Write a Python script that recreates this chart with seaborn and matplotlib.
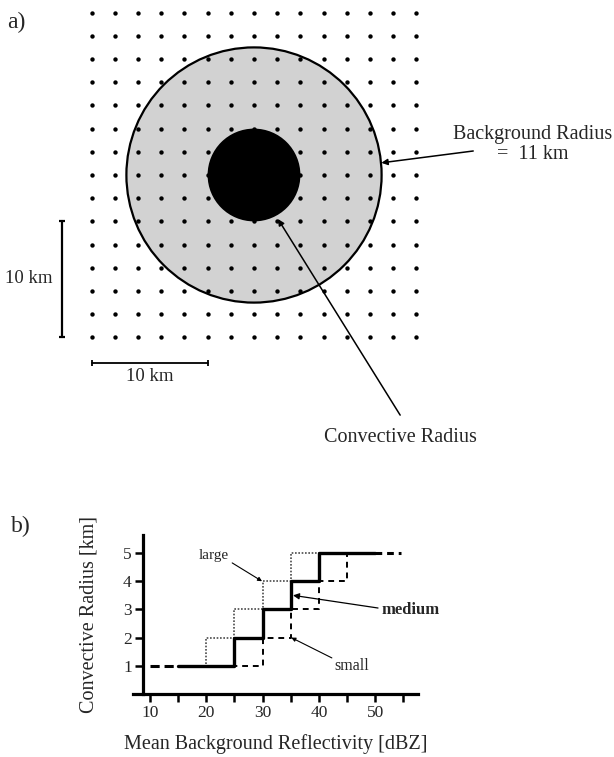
import numpy as np
import pandas as pd
import matplotlib
matplotlib.use("Agg")
import matplotlib.pyplot as plt
from matplotlib.patches import Circle
import seaborn as sns

# ---- panel a: analysis grid (km) and the two radii ----
grid_km = [-14, -12, -10, -8, -6, -4, -2, 0, 2, 4, 6, 8, 10, 12, 14]
background_radius_km = 11
convective_radius_km = 4
scale_bar_km = 10

# ---- panel b: convective radius vs. mean background reflectivity ----
bin_start_dbz = [15, 20, 25, 30, 35, 40, 45]
bin_end_dbz = 50
extend_left_dbz = 10
extend_right_dbz = 54.5
radius_large = [1, 2, 3, 4, 5, 5, 5]
radius_medium = [1, 1, 2, 3, 4, 5, 5]
radius_small = [1, 1, 1, 2, 3, 4, 5]
x_ticks = [10, 15, 20, 25, 30, 35, 40, 45, 50, 55]
x_tick_labels = ["10", "", "20", "", "30", "", "40", "", "50", ""]
y_ticks = [1, 2, 3, 4, 5]

sns.set_theme(style="white")
plt.rcParams["font.family"] = ["Liberation Serif", "DejaVu Serif"]
plt.rcParams["mathtext.fontset"] = "stix"

W, H = 614, 757
fig = plt.figure(figsize=(W / 100, H / 100), dpi=100)
fig.patch.set_facecolor("white")

# ================= panel a =================
px_per_km = 11.6
cx, cy = 254, 175  # circle centre in pixels
a_bottom = 450
ax_a = fig.add_axes([0, 1 - a_bottom / H, 1, a_bottom / H])
ax_a.add_patch(Circle((0, 0), background_radius_km, facecolor="#d2d2d2",
                      edgecolor="black", lw=1.6, zorder=1))
ax_a.add_patch(Circle((0, 0), convective_radius_km, facecolor="black",
                      edgecolor="black", lw=0, zorder=2))

gx, gy = np.meshgrid(grid_km, grid_km)
dots = pd.DataFrame({"x": gx.ravel(), "y": gy.ravel()})
sns.scatterplot(data=dots, x="x", y="y", ax=ax_a, color="black", s=10,
                linewidth=0, zorder=3)

# scale bars
bar_y = -16.2
ax_a.plot([-14, -14 + scale_bar_km], [bar_y, bar_y], color="black", lw=1.3,
          marker="|", markersize=5, mew=1.3, zorder=3)
bar_x = -16.55
ax_a.plot([bar_x, bar_x], [-14, -14 + scale_bar_km], color="black", lw=1.6,
          marker="_", markersize=5, mew=1.6, zorder=3)
ax_a.text(-9.0, bar_y - 0.45, "10 km", ha="center", va="top", fontsize=13.5)
ax_a.text(-19.4, -8.95, "10 km", ha="center", va="center", fontsize=13.5)

# annotations
ax_a.text(24.05, 3.1, "Background Radius", ha="center", va="baseline", fontsize=14.5)
ax_a.text(24.05, 1.38, "=  11 km", ha="center", va="baseline", fontsize=14.5)
ax_a.annotate("", xy=(10.98, 1.05), xytext=(18.9, 2.07),
              arrowprops=dict(arrowstyle="-|>", color="black", lw=1.1,
                              mutation_scale=9, shrinkA=0, shrinkB=0))
ax_a.text(12.6, -23.0, "Convective Radius", ha="center", va="baseline", fontsize=14.5)
ax_a.annotate("", xy=(2.07, -3.8), xytext=(12.6, -20.7),
              arrowprops=dict(arrowstyle="-|>", color="black", lw=1.1,
                              mutation_scale=9, shrinkA=0, shrinkB=0))

ax_a.set_xlim(-cx / px_per_km, (W - cx) / px_per_km)
ax_a.set_ylim((cy - a_bottom) / px_per_km, cy / px_per_km)
ax_a.set_axis_off()

fig.text(7 / W, 1 - 22.5 / H, "a)", ha="left", va="center", fontsize=17)
fig.text(11 / W, 1 - 526 / H, "b)", ha="left", va="center", fontsize=17)

# ================= panel b =================
x_left_px, x_right_px = 133.1, 418
y_zero_px, y_top_px = 694, 535
ax_b = fig.add_axes([x_left_px / W, (H - y_zero_px) / H,
                     (x_right_px - x_left_px) / W, (y_zero_px - y_top_px) / H])

x_steps = bin_start_dbz + [bin_end_dbz]
curves = [
    (radius_large, dict(color="#4a4a4a", lw=1.2, linestyle=(0, (1, 1)))),
    (radius_small, dict(color="black", lw=1.4, linestyle=(0, (3, 2.5)))),
    (radius_medium, dict(color="black", lw=2.4, linestyle="-")),
]
for radii, style in curves:
    sns.lineplot(x=x_steps, y=radii + [radii[-1]], ax=ax_b,
                 drawstyle="steps-post", **style)

# dashed continuation of the curves beyond the table range
ax_b.plot([extend_left_dbz, bin_start_dbz[0]], [radius_medium[0]] * 2,
          color="black", lw=2.2, linestyle=(0, (3, 1.6)))
ax_b.plot([bin_end_dbz, extend_right_dbz], [radius_medium[-1]] * 2,
          color="black", lw=2.2, linestyle=(0, (2.2, 1.6)))

ax_b.set_xlim(7.0, 57.6)
ax_b.set_ylim(0, 5.64)
ax_b.set_xticks(x_ticks)
ax_b.set_xticklabels(x_tick_labels)
ax_b.set_yticks(y_ticks)
ax_b.set_yticklabels([str(v) for v in y_ticks])
ax_b.spines["left"].set_position(("data", 8.75))
for side in ("top", "right"):
    ax_b.spines[side].set_visible(False)
for side in ("left", "bottom"):
    ax_b.spines[side].set_linewidth(2.3)
    ax_b.spines[side].set_color("black")
ax_b.tick_params(axis="both", direction="out", length=6, width=1.8,
                 color="black", labelsize=12.5, pad=2, left=True, bottom=True)
ax_b.set_xlabel("Mean Background Reflectivity [dBZ]", fontsize=14.5, labelpad=9)
ax_b.set_ylabel("Convective Radius [km]", fontsize=14.5, labelpad=18)
ax_b.patch.set_alpha(0)

# curve labels
ax_b.text(21.4, 4.9, "large", ha="center", va="center", fontsize=11)
ax_b.annotate("", xy=(29.9, 4.0), xytext=(24.6, 4.65),
              arrowprops=dict(arrowstyle="-|>", color="black", lw=0.8,
                              mutation_scale=6, shrinkA=0, shrinkB=0))
ax_b.text(56.2, 2.98, "medium", ha="center", va="center", fontsize=12,
          fontweight="bold")
ax_b.annotate("", xy=(35.4, 3.5), xytext=(50.5, 3.05),
              arrowprops=dict(arrowstyle="-|>", color="black", lw=0.9,
                              mutation_scale=9, shrinkA=0, shrinkB=0))
ax_b.text(45.9, 1.0, "small", ha="center", va="center", fontsize=11.5)
ax_b.annotate("", xy=(35.1, 2.0), xytext=(42.3, 1.28),
              arrowprops=dict(arrowstyle="-|>", color="black", lw=0.8,
                              mutation_scale=6, shrinkA=0, shrinkB=0))

fig.savefig("out.png", dpi=100, facecolor="white")
